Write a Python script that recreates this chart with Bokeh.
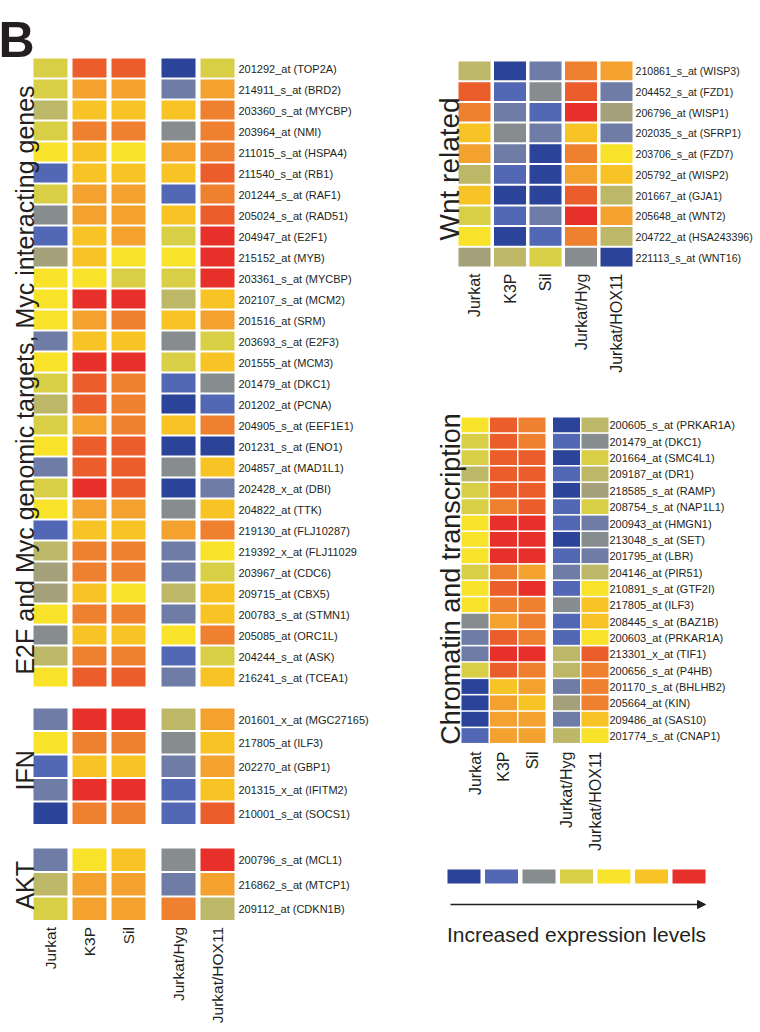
import math
from bokeh.plotting import figure
from bokeh.models import Range1d, ColumnDataSource, Arrow, NormalHead
from bokeh.core.properties import value
from bokeh.embed import file_html
from bokeh.resources import INLINE

# ---------------- data ----------------
CELL_LINES = ["Jurkat", "K3P", "Sil", "Jurkat/Hyg", "Jurkat/HOX11"]

# expression level colour scale, level 1 (low) .. 13 (high)
PALETTE = ["#2B4398", "#5368B4", "#6F7CA6", "#878C8E", "#A3A07A", "#BDB868",
           "#D9CF47", "#F8E22A", "#F8C325", "#F4A22F", "#EF8030", "#EB5E2C", "#E8302B"]

E2F_GENES = ["201292_at (TOP2A)", "214911_s_at (BRD2)", "203360_s_at (MYCBP)", "203964_at (NMI)",
             "211015_s_at (HSPA4)", "211540_s_at (RB1)", "201244_s_at (RAF1)", "205024_s_at (RAD51)",
             "204947_at (E2F1)", "215152_at (MYB)", "203361_s_at (MYCBP)", "202107_s_at (MCM2)",
             "201516_at (SRM)", "203693_s_at (E2F3)", "201555_at (MCM3)", "201479_at (DKC1)",
             "201202_at (PCNA)", "204905_s_at (EEF1E1)", "201231_s_at (ENO1)", "204857_at (MAD1L1)",
             "202428_x_at (DBI)", "204822_at (TTK)", "219130_at (FLJ10287)", "219392_x_at (FLJ11029",
             "203967_at (CDC6)", "209715_at (CBX5)", "200783_s_at (STMN1)", "205085_at (ORC1L)",
             "204244_s_at (ASK)", "216241_s_at (TCEA1)"]
E2F_LEVELS = [
    [7, 12, 12, 1, 7], [7, 10, 10, 3, 10], [6, 9, 9, 9, 11], [7, 11, 11, 4, 11],
    [8, 9, 8, 10, 11], [2, 9, 9, 9, 12], [7, 10, 10, 2, 11], [4, 10, 10, 9, 12],
    [2, 9, 10, 7, 13], [5, 9, 8, 8, 13], [8, 8, 7, 7, 13], [8, 13, 13, 6, 9],
    [8, 10, 11, 9, 10], [3, 9, 9, 4, 7], [8, 13, 13, 7, 9], [7, 12, 11, 2, 4],
    [6, 12, 11, 1, 2], [7, 10, 11, 9, 11], [8, 12, 12, 1, 1], [3, 12, 12, 4, 9],
    [7, 13, 12, 1, 3], [8, 10, 10, 4, 9], [2, 9, 9, 10, 11], [6, 11, 11, 3, 8],
    [5, 11, 11, 3, 7], [5, 9, 8, 6, 9], [8, 11, 11, 3, 9], [4, 9, 9, 8, 11],
    [6, 11, 11, 2, 7], [8, 12, 12, 3, 9]]

IFN_GENES = ["201601_x_at (MGC27165)", "217805_at (ILF3)", "202270_at (GBP1)",
             "201315_x_at (IFITM2)", "210001_s_at (SOCS1)"]
IFN_LEVELS = [[3, 13, 13, 6, 10], [8, 11, 11, 4, 9], [2, 9, 9, 3, 10],
              [3, 13, 13, 2, 9], [1, 11, 11, 2, 12]]

AKT_GENES = ["200796_s_at (MCL1)", "216862_s_at (MTCP1)", "209112_at (CDKN1B)"]
AKT_LEVELS = [[3, 8, 9, 4, 13], [6, 10, 10, 3, 10], [7, 10, 10, 11, 6]]

WNT_GENES = ["210861_s_at (WISP3)", "204452_s_at (FZD1)", "206796_at (WISP1)",
             "202035_s_at (SFRP1)", "203706_s_at (FZD7)", "205792_at (WISP2)",
             "201667_at (GJA1)", "205648_at (WNT2)", "204722_at (HSA243396)", "221113_s_at (WNT16)"]
WNT_LEVELS = [[6, 1, 3, 11, 10], [12, 2, 4, 12, 3], [11, 3, 2, 13, 5], [9, 4, 3, 9, 3],
              [10, 3, 1, 11, 8], [6, 2, 1, 10, 9], [9, 1, 1, 12, 6], [7, 2, 3, 13, 10],
              [8, 1, 2, 11, 6], [5, 6, 7, 4, 1]]

CHROM_GENES = ["200605_s_at (PRKAR1A)", "201479_at (DKC1)", "201664_at (SMC4L1)", "209187_at (DR1)",
               "218585_s_at (RAMP)", "208754_s_at (NAP1L1)", "200943_at (HMGN1)", "213048_s_at (SET)",
               "201795_at (LBR)", "204146_at (PIR51)", "210891_s_at (GTF2I)", "217805_at (ILF3)",
               "208445_s_at (BAZ1B)", "200603_at (PRKAR1A)", "213301_x_at (TIF1)", "200656_s_at (P4HB)",
               "201170_s_at (BHLHB2)", "205664_at (KIN)", "209486_at (SAS10)", "201774_s_at (CNAP1)"]
CHROM_LEVELS = [[8, 12, 11, 1, 6], [7, 12, 11, 2, 4], [7, 12, 12, 1, 7], [6, 12, 12, 2, 6],
                [7, 12, 12, 1, 5], [7, 11, 12, 2, 7], [8, 13, 13, 2, 3], [8, 13, 13, 1, 4],
                [8, 13, 13, 2, 3], [7, 11, 10, 3, 6], [8, 12, 13, 2, 8], [8, 11, 11, 4, 9],
                [4, 10, 11, 2, 9], [3, 12, 11, 2, 8], [3, 13, 13, 6, 12], [7, 12, 11, 6, 11],
                [1, 9, 10, 3, 11], [1, 10, 9, 5, 11], [1, 10, 10, 3, 9], [2, 10, 10, 6, 8]]

LEGEND_LEVELS = [1, 2, 4, 7, 8, 9, 13]
LEGEND_TEXT = "Increased expression levels"
PANEL_LETTER = "B"
LEFT_TITLE = "E2F and Myc genomic targets,  Myc interacting genes"

# ---------------- layout (page pixels) ----------------
FONT = value("Liberation Sans")
INK = "#231F20"
W, H = 760, 1032

p = figure(width=W, height=H, x_range=Range1d(0, W), y_range=Range1d(H, 0),
           output_backend="svg", toolbar_location=None, min_border=0,
           x_axis_location=None, y_axis_location=None, outline_line_color=None,
           background_fill_color="white", border_fill_color="white")
p.xgrid.visible = False
p.ygrid.visible = False


def block(genes, levels, x0, cp, cw, gap, y0, rp, rh, label_x, label_fs="11px"):
    xs, ys, cols = [], [], []
    for i, row in enumerate(levels):
        for j, lv in enumerate(row):
            left = x0 + j * cp + (gap if j >= 3 else 0)
            xs.append(left + cw / 2)
            ys.append(y0 + i * rp + rh / 2)
            cols.append(PALETTE[lv - 1])
    src = ColumnDataSource(dict(x=xs, y=ys, c=cols))
    p.rect(x="x", y="y", width=cw, height=rh, fill_color="c", line_color=None, source=src)
    p.text(x=[label_x] * len(genes), y=[y0 + i * rp + rh / 2 + 0.5 for i in range(len(genes))],
           text=genes, text_font=FONT, text_font_size=label_fs, text_color=INK,
           text_align="left", text_baseline="middle")
    centers = [x0 + j * cp + (gap if j >= 3 else 0) + cw / 2 for j in range(5)]
    return centers, y0 + len(levels) * rp / 2, y0 + len(levels) * rp


def col_labels(centers, top, fs="16px"):
    p.text(x=centers, y=[top] * len(centers), text=CELL_LINES, angle=math.pi / 2,
           text_font=FONT, text_font_size=fs, text_color=INK,
           text_align="right", text_baseline="middle")


def vtitle(txt, xb, yc, fs):
    p.text(x=[xb], y=[yc], text=[txt], angle=math.pi / 2, text_font=FONT,
           text_font_size=fs, text_color=INK, text_align="center", text_baseline="alphabetic")


# left panel
c_left, mid_e2f, _ = block(E2F_GENES, E2F_LEVELS, 33, 39, 34, 11, 58, 21, 19, 238)
_, mid_ifn, _ = block(IFN_GENES, IFN_LEVELS, 33, 39, 34, 11, 708, 23.5, 21.5, 238)
_, mid_akt, bot_akt = block(AKT_GENES, AKT_LEVELS, 33, 39, 34, 11, 848, 24.5, 22.5, 238)
col_labels(c_left, bot_akt + 5, "15.5px")
vtitle(LEFT_TITLE, 24, mid_e2f + 3, "25px")
vtitle("IFN", 24, mid_ifn + 3, "25px")
vtitle("AKT", 24, mid_akt, "25px")

# Wnt panel
c_wnt, mid_wnt, bot_wnt = block(WNT_GENES, WNT_LEVELS, 458, 35.5, 32, 0, 61, 20.7, 18.7, 635, "10.6px")
col_labels(c_wnt, bot_wnt + 5)
vtitle("Wnt  related", 449, mid_wnt, "28px")

# Chromatin panel
c_chr, mid_chr, bot_chr = block(CHROM_GENES, CHROM_LEVELS, 461, 28.5, 27, 6, 417, 16.35, 14.8, 609)
col_labels(c_chr, bot_chr + 7)
vtitle("Chromatin and transcription", 450, mid_chr - 2, "27px")

# legend
LX0, LP, LW = 447, 37.5, 33
lx = [LX0 + k * LP + LW / 2 for k in range(len(LEGEND_LEVELS))]
p.rect(x=lx, y=[876] * len(lx), width=LW, height=14,
       fill_color=[PALETTE[l - 1] for l in LEGEND_LEVELS], line_color=None)
lright = LX0 + (len(LEGEND_LEVELS) - 1) * LP + LW
p.add_layout(Arrow(end=NormalHead(size=8, fill_color=INK, line_color=INK),
                   x_start=LX0 + 3, y_start=904, x_end=lright, y_end=904,
                   line_color=INK, line_width=1.5))
p.text(x=[(LX0 + lright) / 2], y=[934], text=[LEGEND_TEXT], text_font=FONT,
       text_font_size="21px", text_color=INK, text_align="center", text_baseline="alphabetic")

# panel letter
p.text(x=[-2], y=[39], text=[PANEL_LETTER], text_font=FONT, text_font_size="50px",
       text_font_style="bold", text_color=INK, text_align="left", text_baseline="alphabetic")

open("out.html", "w").write(file_html(p, INLINE))
